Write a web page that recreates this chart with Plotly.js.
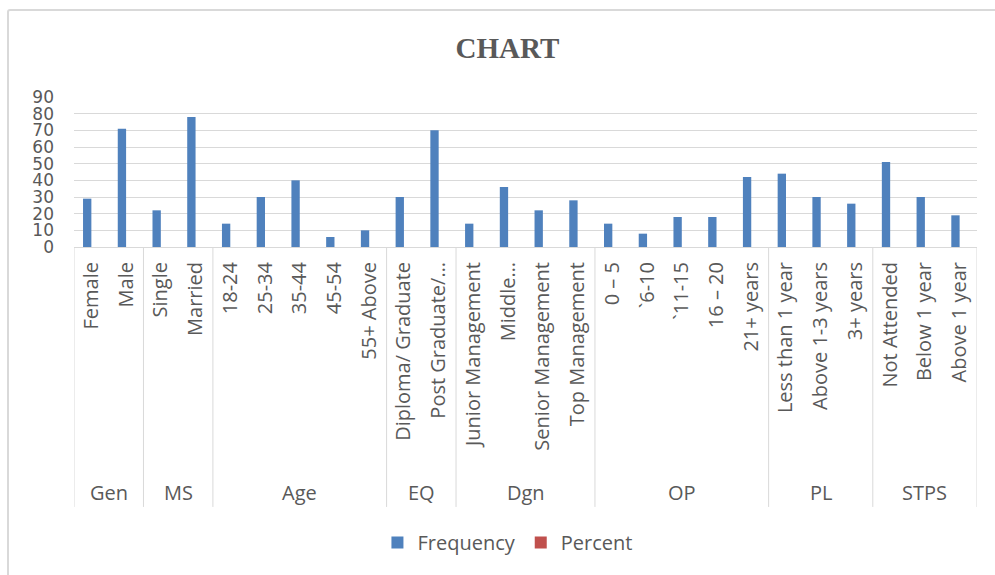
<!DOCTYPE html>
<html><head><meta charset="utf-8">
<script src="https://cdn.plot.ly/plotly-3.0.1.min.js"></script>
<style>
html,body{margin:0;padding:0;background:#fff;overflow:hidden}
#chart{width:995px;height:575px}
#frame{position:absolute;left:7px;top:9px;width:1000px;height:580px;border:2px solid #d9d9d9;border-radius:3px;pointer-events:none}
</style></head><body>
<div id="chart"></div><div id="frame"></div>
<script>
const groups = ['Gen','MS','Age','EQ','Dgn','OP','PL','STPS'];
const groupSizes = [2,2,5,2,4,5,3,3];
const categories = ['Female','Male','Single','Married','18-24','25-34','35-44','45-54','55+ Above',
  'Diploma/ Graduate','Post Graduate/…','Junior Management','Middle…','Senior Management','Top Management',
  '0 – 5','`6-10','`11-15','16 – 20','21+ years','Less than 1 year','Above 1-3 years','3+ years',
  'Not Attended','Below 1 year','Above 1 year'];
const frequency = [29,71,22,78,14,30,40,6,10,30,70,14,36,22,28,14,8,18,18,42,44,30,26,51,30,19];
const percent = [null,null,null,null,null,null,null,null,null,null,null,null,null,
  null,null,null,null,null,null,null,null,null,null,null,null,null];
const yTicks = [0,10,20,30,40,50,60,70,80,90];

const gray = '#595959';
const lineGray = '#d9d9d9';
const font = 'Open Sans, Noto Sans, sans-serif';

const shapes = [];
const annotations = [];
let start = 0;
groups.forEach((g, i) => {
  const n = groupSizes[i];
  shapes.push({type:'line', xref:'x', yref:'paper', x0:start-0.5, x1:start-0.5, y0:0, y1:-1.733,
    line:{color:lineGray, width:1}});
  annotations.push({text:g, xref:'x', yref:'paper', x:start+(n-1)/2, y:-1.64, yanchor:'middle',
    showarrow:false, font:{family:font, size:20, color:gray}});
  start += n;
});
shapes.push({type:'line', xref:'x', yref:'paper', x0:start-0.5, x1:start-0.5, y0:0, y1:-1.733,
  line:{color:lineGray, width:1}});

const data = [
  {type:'bar', name:'Frequency', x:categories, y:frequency, marker:{color:'#4f81bd'}},
  {type:'bar', name:'Percent', x:categories, y:percent, marker:{color:'#c0504d'}}
];

const layout = {
  width:995, height:575,
  margin:{l:74, r:18, t:97, b:328},
  paper_bgcolor:'#fff', plot_bgcolor:'#fff',
  barmode:'group', bargap:0.52, bargroupgap:0,
  title:{text:'<b>CHART</b>', font:{family:'Liberation Serif, Times New Roman, serif', size:29, color:gray},
    x:0.51, xanchor:'center', y:1-48/575, yanchor:'middle'},
  xaxis:{type:'category', range:[-0.5, categories.length-0.5], tickangle:-90, showgrid:false,
    ticks:'', ticklabelstandoff:10, tickfont:{family:font, size:20, color:gray}, showline:false, zeroline:false,
    fixedrange:true, automargin:false},
  yaxis:{range:[0,90], tickvals:yTicks, ticktext:yTicks.map(String), showgrid:true, gridcolor:lineGray, gridwidth:1,
    zeroline:true, zerolinecolor:lineGray, zerolinewidth:1, showline:false, ticks:'',
    ticklabelstandoff:19, tickfont:{family:'DejaVu Sans, sans-serif', size:17, color:gray}, automargin:false},
  legend:{orientation:'h', x:0.48, xanchor:'center', y:-1.97, yanchor:'middle',
    font:{family:font, size:20, color:gray}, traceorder:'normal'},
  shapes:shapes, annotations:annotations
};
Plotly.newPlot('chart', data, layout, {displayModeBar:false, staticPlot:true});
</script></body></html>
